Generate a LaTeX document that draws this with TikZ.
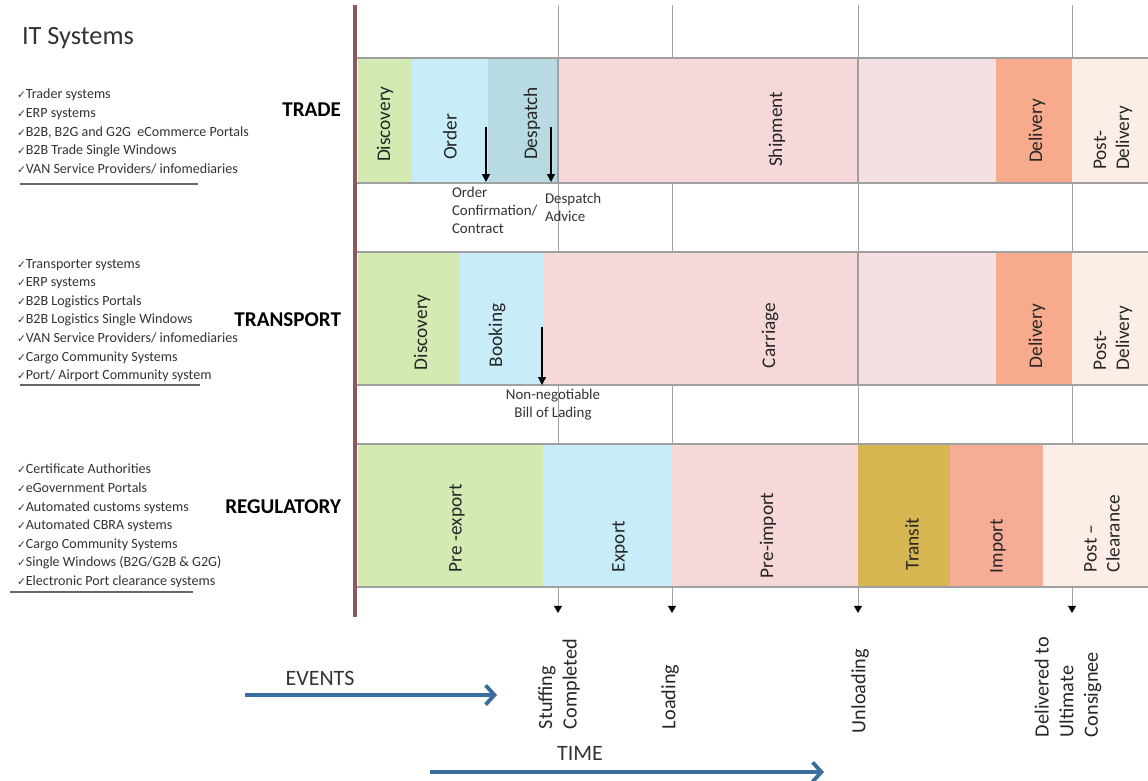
\documentclass[tikz,border=0pt]{standalone}
\usepackage{fontspec}
\setmainfont{Carlito}
\newfontfamily\symfont{DejaVu Sans}
\usetikzlibrary{arrows.meta}

\definecolor{cgreen}{HTML}{D3EBB2}
\definecolor{cblue}{HTML}{C8ECF8}
\definecolor{cteal}{HTML}{B8DAE2}
\definecolor{cpink}{HTML}{F6D8D9}
\definecolor{cpinklt}{HTML}{F3E0E2}
\definecolor{corange}{HTML}{F7AA8C}
\definecolor{cpeach}{HTML}{FCEEE6}
\definecolor{cgold}{HTML}{D6B650}
\definecolor{csalmon}{HTML}{F6AD98}
\definecolor{cbrown}{HTML}{8C5A5E}
\definecolor{gridgrey}{HTML}{A0A0A0}
\definecolor{arrowblue}{HTML}{3B6EA0}

\newcommand{\chk}{{\symfont\fontsize{6}{6}\selectfont ✓}}

\begin{document}
\begin{tikzpicture}[x=0.02cm, y=-0.02cm,
    every node/.style={inner sep=0pt, outer sep=0pt},
    phase/.style={rotate=90, anchor=west, align=left, font=\fontsize{11}{13}\selectfont, text=black!85},
    event/.style={rotate=90, anchor=west, align=left, font=\fontsize{11.5}{14}\selectfont, text=black!85},
    row/.style={anchor=east, font=\fontsize{12}{14}\selectfont\bfseries},
    syslist/.style={anchor=north west, align=left, font=\fontsize{8}{10.6}\selectfont, text=black!80},
    msg/.style={anchor=north west, align=left, font=\fontsize{8.5}{10.2}\selectfont, text=black!80},
    evline/.style={draw=gridgrey, line width=0.5pt, -{Triangle[length=4pt,width=4.5pt,color=black]}},
    msgarrow/.style={draw=black, line width=0.7pt, -{Triangle[length=4.5pt,width=4.5pt]}},
    bandline/.style={draw=gridgrey, line width=0.6pt},
    bigarrow/.style={draw=arrowblue, line width=2.2pt, -{Straight Barb[length=5pt,width=11pt]}},
    under/.style={draw=black!60, line width=0.8pt}
  ]
  \useasboundingbox (0,0) rectangle (1148,780);

  \coordinate (stufftop) at (558,5);
  \coordinate (stuffend) at (558,613);
  \coordinate (loadtop) at (672,5);
  \coordinate (loadend) at (672,613);
  \coordinate (unloadtop) at (858,5);
  \coordinate (unloadend) at (858,613);
  \coordinate (delivtop) at (1072,5);
  \coordinate (delivend) at (1072,613);

  \draw[evline] (stufftop) -- (stuffend);
  \draw[evline] (loadtop) -- (loadend);
  \draw[evline] (unloadtop) -- (unloadend);
  \draw[evline] (delivtop) -- (delivend);

  % trade
  \fill[cgreen] (358,58) rectangle (412,183);
  \fill[cblue] (412,58) rectangle (488,183);
  \fill[cteal] (488,58) rectangle (558,183);
  \fill[cpink] (558,58) rectangle (858,183);
  \fill[cpinklt] (858,58) rectangle (996,183);
  \fill[corange] (996,58) rectangle (1072,183);
  \fill[cpeach] (1072,58) rectangle (1148,183);

  % transport
  \fill[cgreen] (358,252) rectangle (460,385);
  \fill[cblue] (460,252) rectangle (543,385);
  \fill[cpink] (543,252) rectangle (858,385);
  \fill[cpinklt] (858,252) rectangle (996,385);
  \fill[corange] (996,252) rectangle (1072,385);
  \fill[cpeach] (1072,252) rectangle (1148,385);

  % regulatory
  \fill[cgreen] (358,444) rectangle (543,587);
  \fill[cblue] (543,444) rectangle (672,587);
  \fill[cpink] (672,444) rectangle (858,587);
  \fill[cgold] (858,444) rectangle (950,587);
  \fill[csalmon] (950,444) rectangle (1043,587);
  \fill[cpeach] (1043,444) rectangle (1148,587);

  \draw[bandline] (355,58) -- (1148,58);
  \draw[bandline] (355,183) -- (1148,183);
  \draw[bandline] (355,252) -- (1148,252);
  \draw[bandline] (355,385) -- (1148,385);
  \draw[bandline] (355,444) -- (1148,444);
  \draw[bandline] (355,587) -- (1148,587);
  \draw[bandline] (558,58) -- (558,183);
  \draw[bandline] (858,58) -- (858,183);
  \draw[bandline] (858,252) -- (858,385);

  \draw[cbrown, line width=1.8pt] (355,5) -- (355,617);

  \node[anchor=west, font=\fontsize{15}{18}\selectfont, text=black!80] (itsys) at (22,38) {IT Systems};

  \node[syslist] (tradelist) at (17,89) {\chk Trader systems\\\chk ERP systems\\\chk B2B, B2G and G2G\ \ eCommerce Portals\\\chk B2B Trade Single Windows\\\chk VAN Service Providers/ infomediaries};
  \draw[under] (20,184) -- (198,184);
  \node[syslist] (translist) at (17,259) {\chk Transporter systems\\\chk ERP systems\\\chk B2B Logistics Portals\\\chk B2B Logistics Single Windows\\\chk VAN Service Providers/ infomediaries\\\chk Cargo Community Systems\\\chk Port/ Airport Community system};
  \draw[under] (20,385) -- (200,385);
  \node[syslist] (reglist) at (17,464) {\chk Certificate Authorities\\\chk eGovernment Portals\\\chk Automated customs systems\\\chk Automated CBRA systems\\\chk Cargo Community Systems\\\chk Single Windows (B2G/G2B \& G2G)\\\chk Electronic Port clearance systems};
  \draw[under] (10,592) -- (193,592);

  \node[row] (trade) at (341,110) {TRADE};
  \node[row] (transport) at (341,320) {TRANSPORT};
  \node[row] (regulatory) at (341,507) {REGULATORY};

  \node[phase] (tdisc) at (385,162) {Discovery};
  \node[phase] (torder) at (450,160) {Order};
  \node[phase] (tdesp) at (532,160) {Despatch};
  \node[phase] (tship) at (777,167) {Shipment};
  \node[phase] (tdeliv) at (1037,163) {Delivery};
  \node[phase] (tpost) at (1113,170) {Post-\\Delivery};

  \node[phase] (pdisc) at (422,370) {Discovery};
  \node[phase] (pbook) at (497,367) {Booking};
  \node[phase] (pcarr) at (770,368) {Carriage};
  \node[phase] (pdeliv) at (1037,368) {Delivery};
  \node[phase] (ppost) at (1113,370) {Post-\\Delivery};

  \node[phase] (rpre) at (457,572) {Pre -export};
  \node[phase] (rexp) at (620,572) {Export};
  \node[phase] (rpreimp) at (768,578) {Pre-import};
  \node[phase] (rtrans) at (912,570) {Transit};
  \node[phase] (rimp) at (998,573) {Import};
  \node[phase] (rpost) at (1102,572) {Post --\\Clearance};

  \coordinate (ordtop) at (486,127);
  \coordinate (ordend) at (486,182);
  \coordinate (desptop) at (551,127);
  \coordinate (despend) at (551,182);
  \coordinate (bltop) at (542,327);
  \coordinate (blend) at (542,385);
  \draw[msgarrow] (ordtop) -- (ordend);
  \draw[msgarrow] (desptop) -- (despend);
  \draw[msgarrow] (bltop) -- (blend);

  \node[msg] (ordmsg) at (452,187) {Order\\Confirmation/\\Contract};
  \node[msg] (despmsg) at (545,193) {Despatch\\Advice};
  \node[msg, anchor=north, align=center] (blmsg) at (553,389) {Non-negotiable\\Bill of Lading};

  \node[event] (stuffing) at (559,729) {Stuffing\\Completed};
  \node[event] (loading) at (670,729) {Loading};
  \node[event] (unloading) at (860,733) {Unloading};
  \node[event] (delivered) at (1068,737) {Delivered to\\Ultimate\\Consignee};

  \node[font=\fontsize{12.5}{15}\selectfont, text=black!80] (events) at (320,678) {EVENTS};
  \node[font=\fontsize{12.5}{15}\selectfont, text=black!80] (time) at (580,753) {TIME};
  \coordinate (evstart) at (245,695);
  \coordinate (evend) at (497,695);
  \coordinate (tmstart) at (430,772);
  \coordinate (tmend) at (824,772);
  \draw[bigarrow] (evstart) -- (evend);
  \draw[bigarrow] (tmstart) -- (tmend);
\end{tikzpicture}
\end{document}
